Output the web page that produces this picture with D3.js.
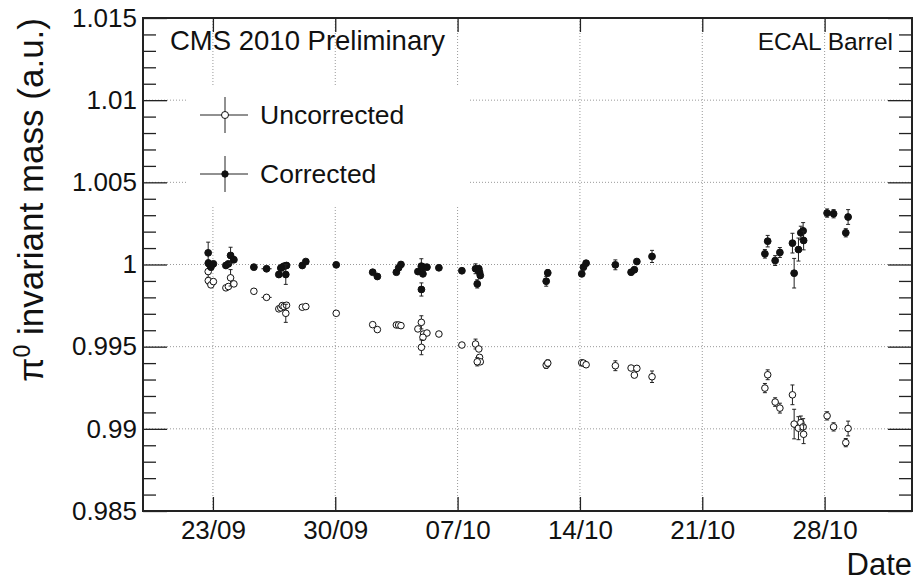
<!DOCTYPE html>
<html>
<head>
<meta charset="utf-8">
<script src="https://cdn.jsdelivr.net/npm/d3@7"></script>
<style>
  body { margin: 0; background: #fff; }
  svg text { font-family: "Liberation Sans", Arial, sans-serif; fill: #111; }
  .grid line { stroke: #999; stroke-width: 1; stroke-dasharray: 1,2; }
  .axis path { display: none; }
  .axis line { stroke: #222; stroke-width: 1.3; }
  .err { stroke: #222; stroke-width: 1; }
</style>
</head>
<body>
<svg id="chart" width="917" height="582"></svg>
<script>
// run start times (2010), one entry per run
const runTimes = [
  "09-22 17:30", "09-22 17:40", "09-22 21:15", "09-23 00:40", "09-23 17:50", "09-23 21:15",
  "09-24 00:15", "09-24 04:50", "09-25 08:15", "09-26 01:40", "09-26 18:30", "09-26 21:15",
  "09-26 23:20", "09-27 01:45", "09-27 05:05", "09-27 04:05", "09-28 02:45", "09-28 07:35",
  "09-30 01:20", "10-02 03:25", "10-02 09:50", "10-03 11:55", "10-03 15:05", "10-03 18:15",
  "10-04 17:30", "10-04 22:15", "10-05 01:20", "10-05 05:55", "10-05 00:25", "10-04 22:20",
  "10-05 22:20", "10-07 05:55", "10-08 00:40", "10-08 05:10", "10-08 06:10", "10-08 07:10",
  "10-08 03:00", "10-12 01:40", "10-12 03:50", "10-14 02:30", "10-14 04:50", "10-14 08:30",
  "10-16 00:40", "10-16 22:15", "10-17 02:45", "10-17 06:10", "10-18 03:00", "10-24 14:00",
  "10-24 17:50", "10-25 04:05", "10-25 10:35", "10-26 03:50", "10-26 06:10", "10-26 12:05",
  "10-26 15:20", "10-26 18:30", "10-26 19:10", "10-28 03:25", "10-28 12:20", "10-29 05:05",
  "10-29 08:15"
];

// half width of each run in hours (horizontal error)
const runHalfHours = [
  1, 1, 1, 1, 1, 1, 1, 1, 2, 7, 1, 1, 1, 1, 1, 1, 1, 1, 1, 1, 1, 1, 1, 1, 1, 1, 1, 1, 1, 1,
  1, 1, 1, 1, 1, 1, 1, 1, 1, 1, 1, 1, 1, 1, 1, 1, 1, 1, 1, 1, 1, 1, 1, 1, 1, 1, 1, 3, 1, 1, 1
];

const corrected = [
  1.00071, 1.00008, 0.99984, 1.00004, 0.99994, 1.00004, 1.00055, 1.00029, 0.99984, 0.99974,
  0.99939, 0.99978, 0.99984, 0.99990, 0.99994, 0.99939, 0.99994, 1.00018, 0.99998, 0.99953,
  0.99927, 0.99953, 0.99980, 1.00000, 0.99957, 0.99990, 0.99984, 0.99984, 0.99943, 0.99848,
  0.99980, 0.99962, 0.99974, 0.99974, 0.99953, 0.99933, 0.99882, 0.99898, 0.99949, 0.99943,
  0.99984, 1.00008, 0.99998, 0.99953, 0.99968, 1.00018, 1.00049, 1.00065, 1.00142, 1.00024,
  1.00073, 1.00130, 0.99947, 1.00091, 1.00193, 1.00205, 1.00146, 1.00313, 1.00309, 1.00193,
  1.00289
];
const correctedErr = [
  0.00065, 0.00020, 0.00015, 0.00015, 0.00012, 0.00012, 0.00050, 0.00015, 0.00012, 0.00012,
  0.00015, 0.00015, 0.00015, 0.00015, 0.00015, 0.00060, 0.00012, 0.00012, 0.00012, 0.00012,
  0.00012, 0.00012, 0.00012, 0.00012, 0.00015, 0.00045, 0.00015, 0.00015, 0.00015, 0.00040,
  0.00015, 0.00012, 0.00030, 0.00015, 0.00015, 0.00015, 0.00025, 0.00030, 0.00020, 0.00015,
  0.00015, 0.00015, 0.00030, 0.00015, 0.00015, 0.00015, 0.00037, 0.00026, 0.00035, 0.00030,
  0.00030, 0.00060, 0.00090, 0.00070, 0.00040, 0.00050, 0.00057, 0.00025, 0.00025, 0.00025,
  0.00045
];

const uncorrected = [
  0.99957, 0.99902, 0.99876, 0.99896, 0.99858, 0.99866, 0.99919, 0.99882, 0.99837, 0.99800,
  0.99730, 0.99736, 0.99750, 0.99744, 0.99752, 0.99703, 0.99740, 0.99744, 0.99703, 0.99634,
  0.99604, 0.99632, 0.99632, 0.99628, 0.99608, 0.99648, 0.99577, 0.99583, 0.99557, 0.99496,
  0.99577, 0.99510, 0.99516, 0.99486, 0.99435, 0.99408, 0.99408, 0.99388, 0.99400, 0.99402,
  0.99400, 0.99390, 0.99384, 0.99370, 0.99327, 0.99368, 0.99317, 0.99248, 0.99329, 0.99163,
  0.99126, 0.99207, 0.99029, 0.99004, 0.99038, 0.99012, 0.98967, 0.99079, 0.99012, 0.98916,
  0.99002
];
const uncorrectedErr = [
  0.00040, 0.00020, 0.00015, 0.00015, 0.00012, 0.00012, 0.00050, 0.00015, 0.00012, 0.00012,
  0.00015, 0.00015, 0.00015, 0.00015, 0.00015, 0.00055, 0.00012, 0.00012, 0.00012, 0.00012,
  0.00012, 0.00012, 0.00012, 0.00012, 0.00015, 0.00040, 0.00015, 0.00015, 0.00015, 0.00045,
  0.00015, 0.00012, 0.00030, 0.00015, 0.00015, 0.00015, 0.00025, 0.00020, 0.00020, 0.00015,
  0.00015, 0.00015, 0.00030, 0.00015, 0.00015, 0.00015, 0.00035, 0.00028, 0.00030, 0.00026,
  0.00030, 0.00060, 0.00090, 0.00070, 0.00040, 0.00050, 0.00057, 0.00025, 0.00025, 0.00025,
  0.00045
];

const dateTicks = ["2010-09-23", "2010-09-30", "2010-10-07", "2010-10-14", "2010-10-21", "2010-10-28"];
const yMajor = [0.985, 0.99, 0.995, 1, 1.005, 1.01, 1.015];
const yLabels = ["0.985", "0.99", "0.995", "1", "1.005", "1.01", "1.015"];

// layout
const plotLeft = 143, plotRight = 912, plotTop = 18, plotBottom = 511;
const svg = d3.select("#chart");

const parseRun = d3.timeParse("%Y-%m-%d %H:%M");
const parseDay = d3.timeParse("%Y-%m-%d");

const xScale = d3.scaleTime()
  .domain([parseDay("2010-09-19"), parseDay("2010-11-02")])
  .range([plotLeft, plotRight]);
const yScale = d3.scaleLinear().domain([0.985, 1.015]).range([plotBottom, plotTop]);

const runs = runTimes.map(function(t, i) {
  return {
    t: parseRun("2010-" + t),
    dt: runHalfHours[i] * 3600 * 1000,
    c: corrected[i], ce: correctedErr[i],
    u: uncorrected[i], ue: uncorrectedErr[i]
  };
});
const tickDates = dateTicks.map(parseDay);

// grid
const grid = svg.append("g").attr("class", "grid");
grid.selectAll("line.v").data(tickDates).enter().append("line")
  .attr("x1", d => xScale(d)).attr("x2", d => xScale(d))
  .attr("y1", plotTop).attr("y2", plotBottom);
grid.selectAll("line.h").data(yMajor.slice(1, -1)).enter().append("line")
  .attr("y1", d => yScale(d)).attr("y2", d => yScale(d))
  .attr("x1", plotLeft).attr("x2", plotRight);

// legend background hides the grid
svg.append("rect").attr("x", 188).attr("y", 85).attr("width", 280).attr("height", 120).attr("fill", "#fff");

// axes
const yMinor = d3.range(0.985, 1.0151, 0.001).filter(v => yMajor.every(m => Math.abs(m - v) > 1e-6));

svg.append("g").attr("class", "axis")
  .attr("transform", "translate(0," + plotBottom + ")")
  .call(d3.axisBottom(xScale).tickValues(tickDates).tickFormat(d3.timeFormat("%d/%m"))
    .tickSizeInner(-14).tickSizeOuter(0).tickPadding(10))
  .selectAll("text").attr("font-size", 26).attr("font-family", null);

svg.append("g").attr("class", "axis")
  .attr("transform", "translate(0," + plotTop + ")")
  .call(d3.axisTop(xScale).tickValues(tickDates).tickFormat("").tickSizeInner(-14).tickSizeOuter(0));

svg.append("g").attr("class", "axis")
  .attr("transform", "translate(" + plotLeft + ",0)")
  .call(d3.axisLeft(yScale).tickValues(yMajor).tickFormat((d, i) => yLabels[i])
    .tickSizeInner(-24).tickSizeOuter(0).tickPadding(6))
  .selectAll("text").attr("font-size", 26).attr("font-family", null);

svg.append("g").attr("class", "axis")
  .attr("transform", "translate(" + plotLeft + ",0)")
  .call(d3.axisLeft(yScale).tickValues(yMinor).tickFormat("").tickSizeInner(-13).tickSizeOuter(0));

svg.append("g").attr("class", "axis")
  .attr("transform", "translate(" + plotRight + ",0)")
  .call(d3.axisRight(yScale).tickValues(yMajor).tickFormat("").tickSizeInner(-24).tickSizeOuter(0));

svg.append("g").attr("class", "axis")
  .attr("transform", "translate(" + plotRight + ",0)")
  .call(d3.axisRight(yScale).tickValues(yMinor).tickFormat("").tickSizeInner(-13).tickSizeOuter(0));

// frame
svg.append("rect").attr("x", plotLeft).attr("y", plotTop)
  .attr("width", plotRight - plotLeft).attr("height", plotBottom - plotTop)
  .attr("fill", "none").attr("stroke", "#222").attr("stroke-width", 2);

// points with error bars
function drawSeries(key, errKey, filled) {
  const g = svg.append("g");
  const pts = g.selectAll("g").data(runs).enter().append("g");
  pts.append("line").attr("class", "err")
    .attr("x1", d => xScale(d.t)).attr("x2", d => xScale(d.t))
    .attr("y1", d => yScale(d[key] - d[errKey])).attr("y2", d => yScale(d[key] + d[errKey]));
  [-1, 1].forEach(function(s) {
    pts.append("line").attr("class", "err")
      .attr("x1", d => xScale(d.t) - 2).attr("x2", d => xScale(d.t) + 2)
      .attr("y1", d => yScale(d[key] + s * d[errKey])).attr("y2", d => yScale(d[key] + s * d[errKey]));
  });
  pts.append("line").attr("class", "err")
    .attr("x1", d => xScale(new Date(+d.t - d.dt))).attr("x2", d => xScale(new Date(+d.t + d.dt)))
    .attr("y1", d => yScale(d[key])).attr("y2", d => yScale(d[key]));
  pts.append("circle")
    .attr("cx", d => xScale(d.t)).attr("cy", d => yScale(d[key]))
    .attr("r", filled ? 3.4 : 3.3)
    .attr("fill", filled ? "#111" : "#fff")
    .attr("stroke", "#111").attr("stroke-width", 1);
}
drawSeries("u", "ue", false);
drawSeries("c", "ce", true);

// labels
svg.append("text").attr("x", 170).attr("y", 50).attr("font-size", 27.5).text("CMS 2010 Preliminary");
svg.append("text").attr("x", 893).attr("y", 50).attr("font-size", 24.5).attr("text-anchor", "end").text("ECAL Barrel");
svg.append("text").attr("x", 912).attr("y", 575).attr("font-size", 31).attr("text-anchor", "end").text("Date");

const yTitle = svg.append("text")
  .attr("transform", "translate(43," + plotTop + ") rotate(-90)")
  .attr("text-anchor", "end").attr("font-size", 35);
yTitle.append("tspan").text("\u03c0");
yTitle.append("tspan").attr("font-size", 23).attr("dy", -13).text("0");
yTitle.append("tspan").attr("dy", 13).text(" invariant mass (a.u.)");

// legend
const legend = [
  { label: "Uncorrected", y: 115, filled: false },
  { label: "Corrected", y: 174, filled: true }
];
const lg = svg.selectAll("g.legend").data(legend).enter().append("g").attr("class", "legend");
lg.append("line").attr("class", "err").attr("x1", 200).attr("x2", 248).attr("y1", d => d.y).attr("y2", d => d.y);
lg.append("line").attr("class", "err").attr("x1", 225).attr("x2", 225).attr("y1", d => d.y - 18).attr("y2", d => d.y + 18);
lg.append("circle").attr("cx", 225).attr("cy", d => d.y).attr("r", d => d.filled ? 3.2 : 3.5)
  .attr("fill", d => d.filled ? "#111" : "#fff").attr("stroke", "#111");
lg.append("text").attr("x", 260).attr("y", d => d.y + 9).attr("font-size", 26.5).text(d => d.label);
</script>
</body>
</html>
